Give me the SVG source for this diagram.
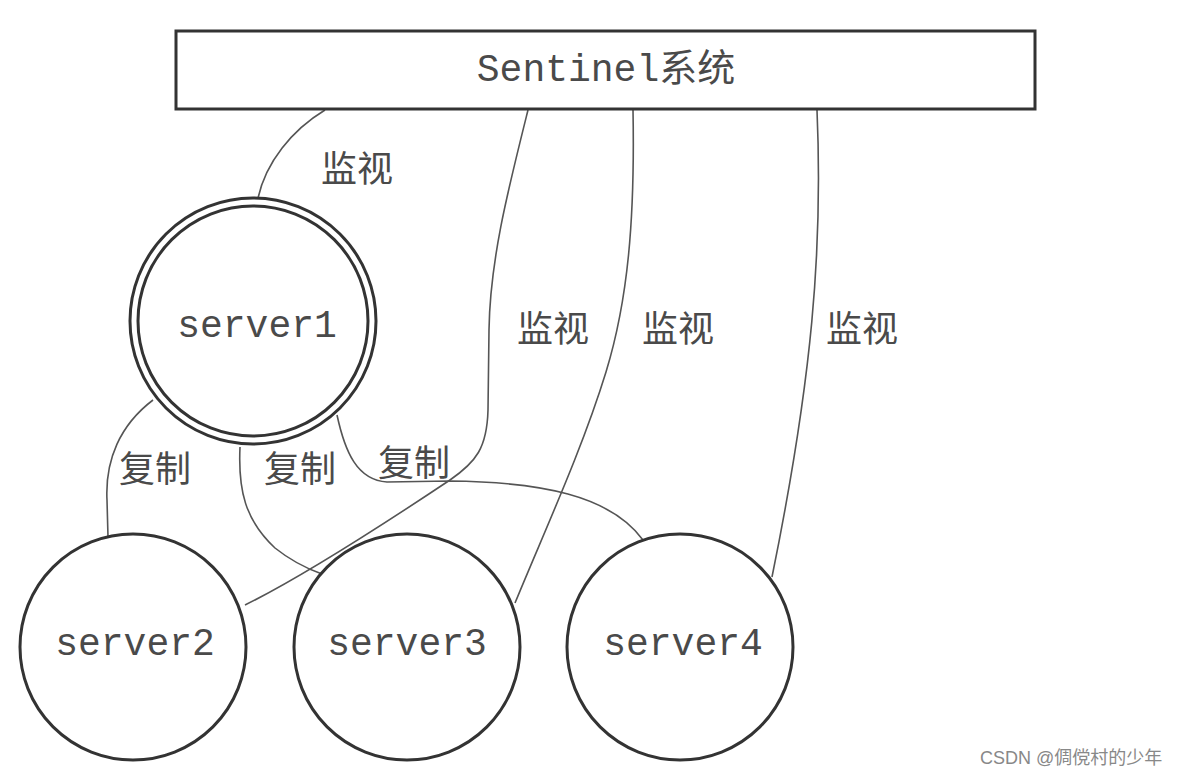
<svg xmlns="http://www.w3.org/2000/svg" width="1186" height="774" viewBox="0 0 1186 774">
<style>
.node{fill:none;stroke:#333;stroke-width:3}
.conn{fill:none;stroke:#555;stroke-width:1.6}
.mono{font-family:"Liberation Mono","Noto Sans CJK SC",monospace;fill:#4a4a4a;text-anchor:middle}
.lbl{font-family:"Noto Sans CJK SC",sans-serif;font-size:36px;fill:#4a4a4a;text-anchor:middle}
.wm{font-family:"Liberation Sans","Noto Sans CJK SC",sans-serif;font-size:18px;fill:#888}
</style>
<rect width="1186" height="774" fill="#fff"/>
<g id="connectors">
<path class="conn" d="M325 110 C292 130 266 162 258 198"/>
<path class="conn" d="M528 110 C508 190 490 260 489 330 L488 410 C487 448 476 462 450 480 C390 520 300 578 245 605"/>
<path class="conn" d="M633 110 C635 220 628 300 606 372 C582 450 545 530 515 603"/>
<path class="conn" d="M817 110 C823 250 812 380 772 577"/>
<path class="conn" d="M153 400 C120 425 105 460 107 500 L108 537"/>
<path class="conn" d="M240 447 C238 490 245 520 275 548 C290 560 305 568 322 574"/>
<path class="conn" d="M337 415 C345 452 357 480 387 482 L450 481 C540 482 610 495 643 540"/>
<text class="lbl" x="357" y="182">监视</text>
<text class="lbl" x="553" y="342">监视</text>
<text class="lbl" x="678" y="342">监视</text>
<text class="lbl" x="862" y="342">监视</text>
<text class="lbl" x="155" y="482">复制</text>
<text class="lbl" x="300" y="482">复制</text>
<text class="lbl" x="414" y="476">复制</text>
</g>
<g id="sentinel">
<rect x="176" y="31" width="859" height="78" fill="#fff" stroke="#333" stroke-width="3"/>
<text class="mono" x="606" y="81" font-size="38">Sentinel系统</text>
</g>
<g id="server1">
<circle class="node" cx="253" cy="321" r="123" fill="#fff"/>
<circle class="node" cx="253" cy="321" r="115"/>
<text class="mono" x="257" y="337" font-size="38">server1</text>
</g>
<g id="server2">
<circle class="node" cx="133" cy="647" r="113"/>
<text class="mono" x="135" y="655" font-size="38">server2</text>
</g>
<g id="server3">
<circle class="node" cx="407" cy="647" r="113"/>
<text class="mono" x="407" y="655" font-size="38">server3</text>
</g>
<g id="server4">
<circle class="node" cx="680" cy="647" r="113"/>
<text class="mono" x="683" y="655" font-size="38">server4</text>
</g>
<text class="wm" x="980" y="764">CSDN @倜傥村的少年</text>
</svg>
